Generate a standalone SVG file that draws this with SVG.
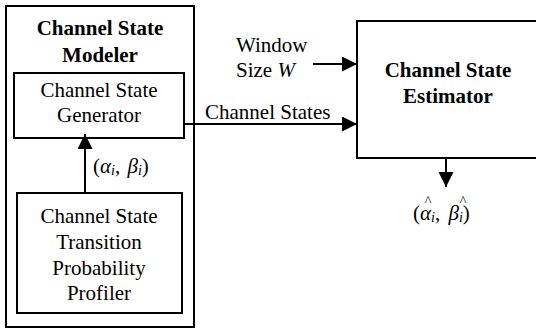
<svg xmlns="http://www.w3.org/2000/svg" width="536" height="329" viewBox="0 0 536 329">
  <style>
    .box { fill: #ffffff; stroke: #000000; stroke-width: 2; }
    .wire { fill: none; stroke: #000000; stroke-width: 2; }
    text { font-family: "Liberation Serif", "Times New Roman", serif; font-size: 21px; fill: #000000; }
    .title { font-weight: bold; }
    .mid { text-anchor: middle; }
    .it { font-style: italic; }
    .sub { font-size: 14px; font-style: italic; }
    .hat { font-size: 14px; }
  </style>
  <defs>
    <marker id="arrow" markerUnits="userSpaceOnUse" markerWidth="16" markerHeight="16" refX="15" refY="7.5" orient="auto">
      <path d="M0,0 L15,7.5 L0,15 Z" fill="#000000"/>
    </marker>
  </defs>

  <rect width="536" height="329" fill="#ffffff"/>

  <!-- Channel State Modeler: outer container -->
  <g id="modeler">
    <rect class="box" x="6" y="6" width="188" height="321"/>
    <text class="title mid" x="100" y="35">Channel State</text>
    <text class="title mid" x="100" y="62">Modeler</text>
  </g>

  <!-- Channel State Generator -->
  <g id="generator">
    <rect class="box" x="14" y="73" width="170" height="65"/>
    <text class="mid" x="99" y="97">Channel State</text>
    <text class="mid" x="99" y="122">Generator</text>
  </g>

  <!-- Channel State Transition Probability Profiler -->
  <g id="profiler">
    <rect class="box" x="17" y="193" width="165" height="120"/>
    <text class="mid" x="99" y="223">Channel State</text>
    <text class="mid" x="99" y="249">Transition</text>
    <text class="mid" x="99" y="275">Probability</text>
    <text class="mid" x="99" y="300">Profiler</text>
  </g>

  <!-- Channel State Estimator (runs past the right edge) -->
  <g id="estimator">
    <rect class="box" x="357" y="21" width="190" height="137"/>
    <text class="title mid" x="448" y="77">Channel State</text>
    <text class="title mid" x="448" y="103">Estimator</text>
  </g>

  <!-- Connectors -->
  <g id="connectors">
    <line class="wire" x1="85" y1="193" x2="85" y2="134" marker-end="url(#arrow)"/>
    <line class="wire" x1="184" y1="124" x2="357" y2="124" marker-end="url(#arrow)"/>
    <line class="wire" x1="313" y1="64" x2="357" y2="64" marker-end="url(#arrow)"/>
    <line class="wire" x1="446" y1="158" x2="446" y2="187" marker-end="url(#arrow)"/>
  </g>

  <!-- Connector labels -->
  <g id="labels">
    <text x="93" y="173">(<tspan class="it">α</tspan><tspan class="sub" dy="2">i</tspan><tspan dy="-2">, </tspan><tspan class="it" dx="2">β</tspan><tspan class="sub" dy="2">i</tspan><tspan dy="-2">)</tspan></text>
    <text x="205" y="119">Channel States</text>
    <text x="236" y="52">Window</text>
    <text x="236" y="77">Size <tspan class="it">W</tspan></text>
    <text x="413" y="220">(<tspan class="it">α</tspan><tspan class="sub" dy="2">i</tspan><tspan dy="-2">, </tspan><tspan class="it" dx="3">β</tspan><tspan class="sub" dy="2">i</tspan><tspan dy="-2">)</tspan></text>
    <text class="hat mid" x="428" y="206">^</text>
    <text class="hat mid" x="463" y="206">^</text>
  </g>
</svg>
